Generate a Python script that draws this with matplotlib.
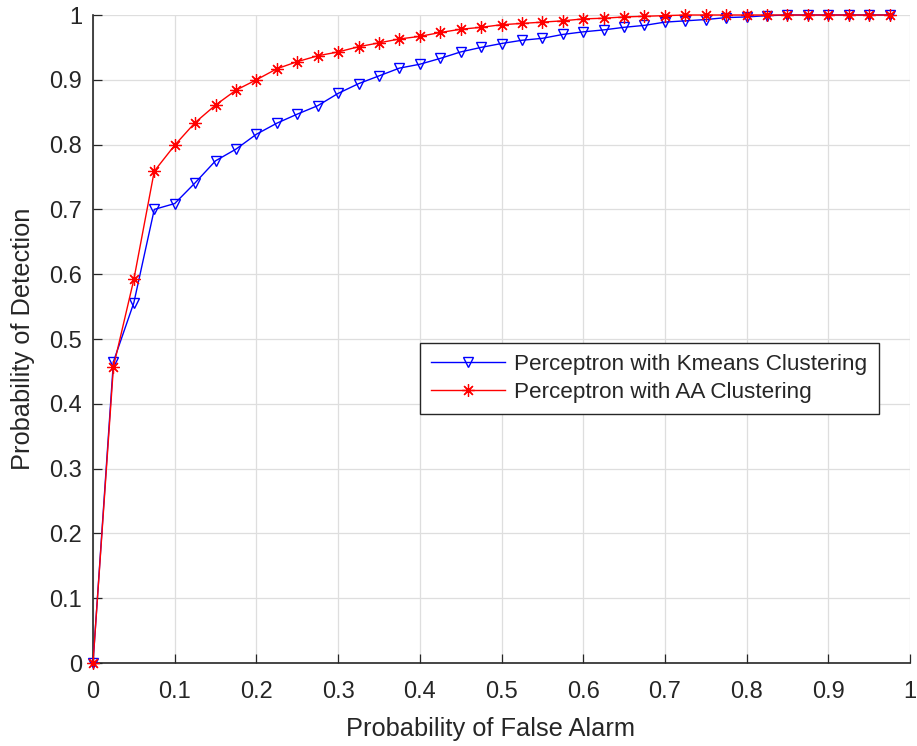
import matplotlib
matplotlib.use("Agg")
import matplotlib.pyplot as plt

plt.rcParams['font.family'] = ['Liberation Sans', 'DejaVu Sans']

pfa = [0.0, 0.025, 0.05, 0.075, 0.1, 0.125, 0.15, 0.175, 0.2, 0.225,
       0.25, 0.275, 0.3, 0.325, 0.35, 0.375, 0.4, 0.425, 0.45, 0.475,
       0.5, 0.525, 0.55, 0.575, 0.6, 0.625, 0.65, 0.675, 0.7, 0.725,
       0.75, 0.775, 0.8, 0.825, 0.85, 0.875, 0.9, 0.925, 0.95, 0.975]

pd_kmeans = [0.0, 0.465, 0.556, 0.700, 0.709, 0.741, 0.775, 0.793, 0.816, 0.833,
             0.847, 0.860, 0.879, 0.894, 0.906, 0.918, 0.924, 0.933, 0.943, 0.950,
             0.956, 0.961, 0.964, 0.970, 0.974, 0.977, 0.981, 0.984, 0.989, 0.991,
             0.993, 0.996, 0.997, 0.999, 1.0, 1.0, 1.0, 1.0, 1.0, 1.0]

pd_aa = [0.0, 0.457, 0.592, 0.759, 0.799, 0.834, 0.861, 0.884, 0.900, 0.917,
         0.928, 0.937, 0.943, 0.951, 0.957, 0.963, 0.967, 0.973, 0.978, 0.981,
         0.985, 0.987, 0.989, 0.991, 0.994, 0.995, 0.997, 0.998, 0.999, 1.0,
         1.0, 1.0, 1.0, 1.0, 1.0, 1.0, 1.0, 1.0, 1.0, 1.0]

ticks = [0, 0.1, 0.2, 0.3, 0.4, 0.5, 0.6, 0.7, 0.8, 0.9, 1]
tick_labels = ['0', '0.1', '0.2', '0.3', '0.4', '0.5', '0.6', '0.7', '0.8', '0.9', '1']

label_kmeans = 'Perceptron with Kmeans Clustering'
label_aa = 'Perceptron with AA Clustering'

fig = plt.figure(figsize=(9.17, 7.46), dpi=100)
ax = fig.add_axes([93/917, 83/746, 817/917, 648/746])

dark = '#262626'
ax.plot(pfa, pd_kmeans, color='#0000ff', lw=1.0, marker='v', ms=7.5,
        mfc='none', mec='#0000ff', mew=1.0, clip_on=False, label=label_kmeans, zorder=3)
ax.plot(pfa, pd_aa, color='#ff0000', lw=1.0, marker=(8, 2, 0), ms=9,
        mec='#ff0000', mew=0.9, clip_on=False, label=label_aa, zorder=4)

ax.set_xlim(0, 1)
ax.set_ylim(0, 1)
ax.set_xticks(ticks)
ax.set_xticklabels(tick_labels)
ax.set_yticks(ticks)
ax.set_yticklabels(tick_labels)

ax.grid(True, color='#dedede', lw=0.9)
ax.set_axisbelow(True)

for s in ['top', 'right']:
    ax.spines[s].set_visible(False)
for s in ['left', 'bottom']:
    ax.spines[s].set_color(dark)
    ax.spines[s].set_linewidth(1.2)

ax.tick_params(axis='both', direction='in', length=6.5, width=0.9, colors=dark,
               labelsize=17, labelcolor=dark)
ax.tick_params(axis='x', pad=13)
ax.tick_params(axis='y', pad=8)

ax.set_xlabel('Probability of False Alarm', fontsize=18.3, color=dark)
ax.xaxis.set_label_coords(0.486, -0.083)
ax.set_ylabel('Probability of Detection', fontsize=18.3, color=dark, labelpad=10)

leg = ax.legend(loc='center', bbox_to_anchor=(0.681, 0.439), fontsize=16.2,
                frameon=True, fancybox=False, edgecolor=dark, framealpha=1,
                handlelength=3.3, handletextpad=0.4, borderpad=0.5,
                labelspacing=0.3, borderaxespad=0)
leg.get_frame().set_linewidth(1.0)
for t in leg.get_texts():
    t.set_color(dark)

fig.savefig('out.png', dpi=100, facecolor='white')
